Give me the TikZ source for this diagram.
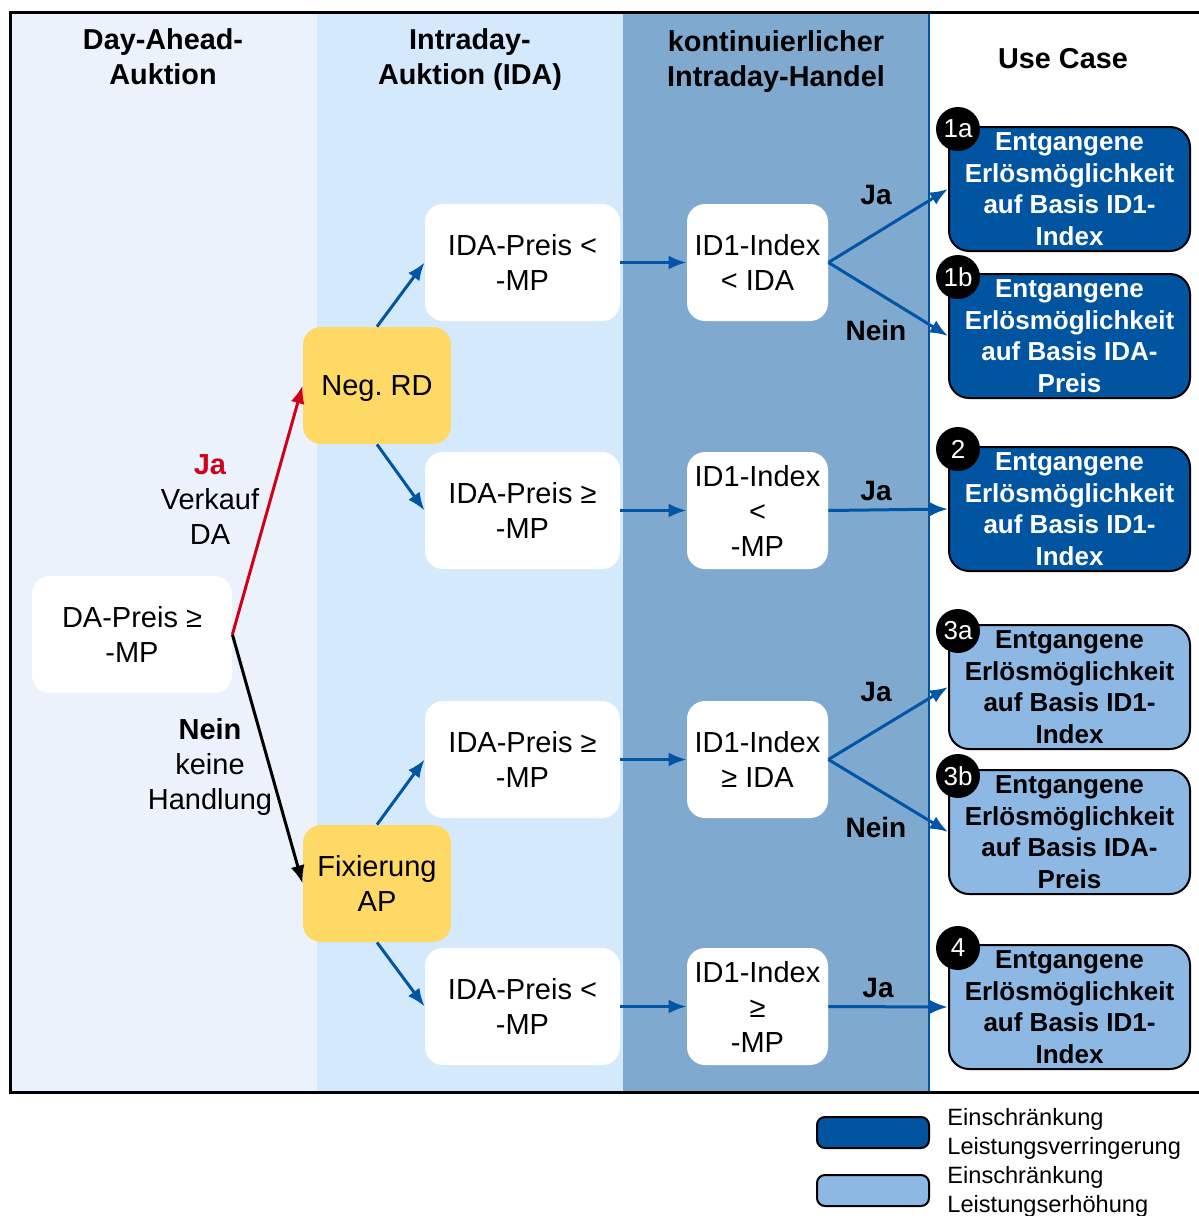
\documentclass[tikz,border=0pt]{standalone}
\usepackage{fontspec}
\setmainfont{Liberation Sans}
\usepackage{tikz}
\usetikzlibrary{arrows.meta}

\definecolor{daBg}{HTML}{EBF2FB}
\definecolor{idaBg}{HTML}{D5E9FC}
\definecolor{idBg}{HTML}{80A9D0}
\definecolor{ucDark}{HTML}{0054A0}
\definecolor{ucLight}{HTML}{8DB8E4}
\definecolor{rdYellow}{HTML}{FFD966}
\definecolor{arrBlue}{HTML}{0055A5}
\definecolor{jaRed}{HTML}{D0021B}

\begin{document}
\begin{tikzpicture}[x=0.5pt, y=-0.5pt,
  txt/.style={font=\fontsize{14.5}{17.5}\selectfont, align=center},
  hdr/.style={font=\bfseries\fontsize{14.4}{17.5}\selectfont, align=center},
  cond/.style={txt, fill=white, rounded corners=9pt, inner sep=0pt, minimum height=58.5pt},
  act/.style={txt, fill=rdYellow, rounded corners=9pt, inner sep=0pt, minimum width=74pt, minimum height=58.5pt},
  uc/.style={draw=black, line width=1pt, rounded corners=10pt, align=center, inner sep=0pt,
    minimum width=120.5pt, minimum height=62pt, font=\bfseries\fontsize{13}{15.75}\selectfont},
  ucdark/.style={uc, fill=ucDark, text=white},
  uclight/.style={uc, fill=ucLight, text=black},
  badge/.style={circle, fill=black, text=white, inner sep=0pt, minimum size=22pt, font=\fontsize{13}{13}\selectfont},
  flow/.style={-{Latex[length=9pt,width=7pt]}, arrBlue, line width=1.5pt},
  lbl/.style={font=\bfseries\fontsize{14}{17}\selectfont},
  legbox/.style={draw=black, line width=1pt, rounded corners=4pt, minimum width=56pt, minimum height=15.5pt, inner sep=0pt},
  legtxt/.style={anchor=west, align=left, inner sep=0pt, font=\fontsize{11.8}{14.5}\selectfont}]
  \useasboundingbox (0,0) rectangle (1199,1216);

  \fill[daBg] (10,12) rectangle (317,1092);
  \fill[idaBg] (317,12) rectangle (623,1092);
  \fill[idBg] (623,12) rectangle (929,1092);
  \draw[arrBlue, line width=1pt] (929,12) -- (929,1092);
  \draw[black, line width=1.5pt] (1199,12) -- (10,12) -- (10,1092) -- (1199,1092);

  \node[hdr] (hda) at (163,57) {Day-Ahead-\\Auktion};
  \node[hdr] (hida) at (470,60) {Intraday-\\Auktion (IDA)};
  \node[hdr] (hid) at (776,62) {kontinuierlicher\\Intraday-Handel};
  \node[hdr] (huc) at (1063,59) {Use Case};

  \node[cond, minimum width=100pt] (da) at (132,634.5) {DA-Preis ≥\\-MP};
  \node[act, text depth=0pt] (negrd) at (377,385.5) {Neg.\ RD};
  \node[act] (fix) at (377,883.5) {Fixierung\\AP};

  \node[cond, minimum width=97.5pt] (ida1) at (522.5,262.5) {IDA-Preis <\\-MP};
  \node[cond, minimum width=97.5pt] (ida2) at (522.5,510.5) {IDA-Preis ≥\\-MP};
  \node[cond, minimum width=97.5pt] (ida3) at (522.5,759.5) {IDA-Preis ≥\\-MP};
  \node[cond, minimum width=97.5pt] (ida4) at (522.5,1006.5) {IDA-Preis <\\-MP};

  \node[cond, minimum width=70.5pt] (id1) at (757.5,262.5) {ID1-Index\\< IDA};
  \node[cond, minimum width=70.5pt] (id2) at (757.5,510.5) {ID1-Index\\<\\-MP};
  \node[cond, minimum width=70.5pt] (id3) at (757.5,759.5) {ID1-Index\\≥ IDA};
  \node[cond, minimum width=70.5pt] (id4) at (757.5,1006.5) {ID1-Index\\≥\\-MP};

  \node[ucdark] (uc1a) at (1069.5,189) {Entgangene\\Erlösmöglichkeit\\auf Basis ID1-\\Index};
  \node[ucdark] (uc1b) at (1069.5,336) {Entgangene\\Erlösmöglichkeit\\auf Basis IDA-\\Preis};
  \node[ucdark] (uc2) at (1069.5,509) {Entgangene\\Erlösmöglichkeit\\auf Basis ID1-\\Index};
  \node[uclight] (uc3a) at (1069.5,687) {Entgangene\\Erlösmöglichkeit\\auf Basis ID1-\\Index};
  \node[uclight] (uc3b) at (1069.5,832) {Entgangene\\Erlösmöglichkeit\\auf Basis IDA-\\Preis};
  \node[uclight] (uc4) at (1069.5,1007) {Entgangene\\Erlösmöglichkeit\\auf Basis ID1-\\Index};

  \node[badge] (b1a) at (958,129) {1a};
  \node[badge] (b1b) at (958,277) {1b};
  \node[badge] (b2) at (958,449) {2};
  \node[badge] (b3a) at (958,631) {3a};
  \node[badge] (b3b) at (958,776) {3b};
  \node[badge] (b4) at (958,948) {4};

  \draw[-{Latex[length=9pt,width=7pt]}, jaRed, line width=1.5pt] (da.east) -- (negrd.west);
  \draw[-{Latex[length=9pt,width=7pt]}, black, line width=1.5pt] (da.east) -- (fix.west);
  \node[txt] (ja) at (210,500) {\textcolor{jaRed}{\bfseries Ja}\\Verkauf\\DA};
  \node[txt] (nein) at (210,767) {\bfseries Nein\\keine\\Handlung};

  \draw[flow] (negrd.north) -- (ida1.west);
  \draw[flow] (negrd.south) -- (ida2.west);
  \draw[flow] (fix.north) -- (ida3.west);
  \draw[flow] (fix.south) -- (ida4.west);
  \foreach \i in {1,2,3,4}
    \draw[flow] (ida\i.east) -- (id\i.west);

  \draw[flow] (id1.east) -- (uc1a.west);
  \draw[flow] (id1.east) -- (uc1b.west);
  \draw[flow] (id2.east) -- (uc2.west);
  \draw[flow] (id3.east) -- (uc3a.west);
  \draw[flow] (id3.east) -- (uc3b.west);
  \draw[flow] (id4.east) -- (uc4.west);
  \node[lbl] (ja1) at (876,195) {Ja};
  \node[lbl] (nein1) at (876,330) {Nein};
  \node[lbl] (ja2) at (876,491) {Ja};
  \node[lbl] (ja3) at (876,692) {Ja};
  \node[lbl] (nein3) at (876,827) {Nein};
  \node[lbl] (ja4) at (878,988) {Ja};

  \node[legbox, fill=ucDark] (legdark) at (873,1132.5) {};
  \node[legbox, fill=ucLight] (leglight) at (873,1190.5) {};
  \node[legtxt] (legdarktxt) at (947,1134) {Einschränkung\\Leistungsverringerung};
  \node[legtxt] (leglighttxt) at (947,1192) {Einschränkung\\Leistungserhöhung};
\end{tikzpicture}
\end{document}
